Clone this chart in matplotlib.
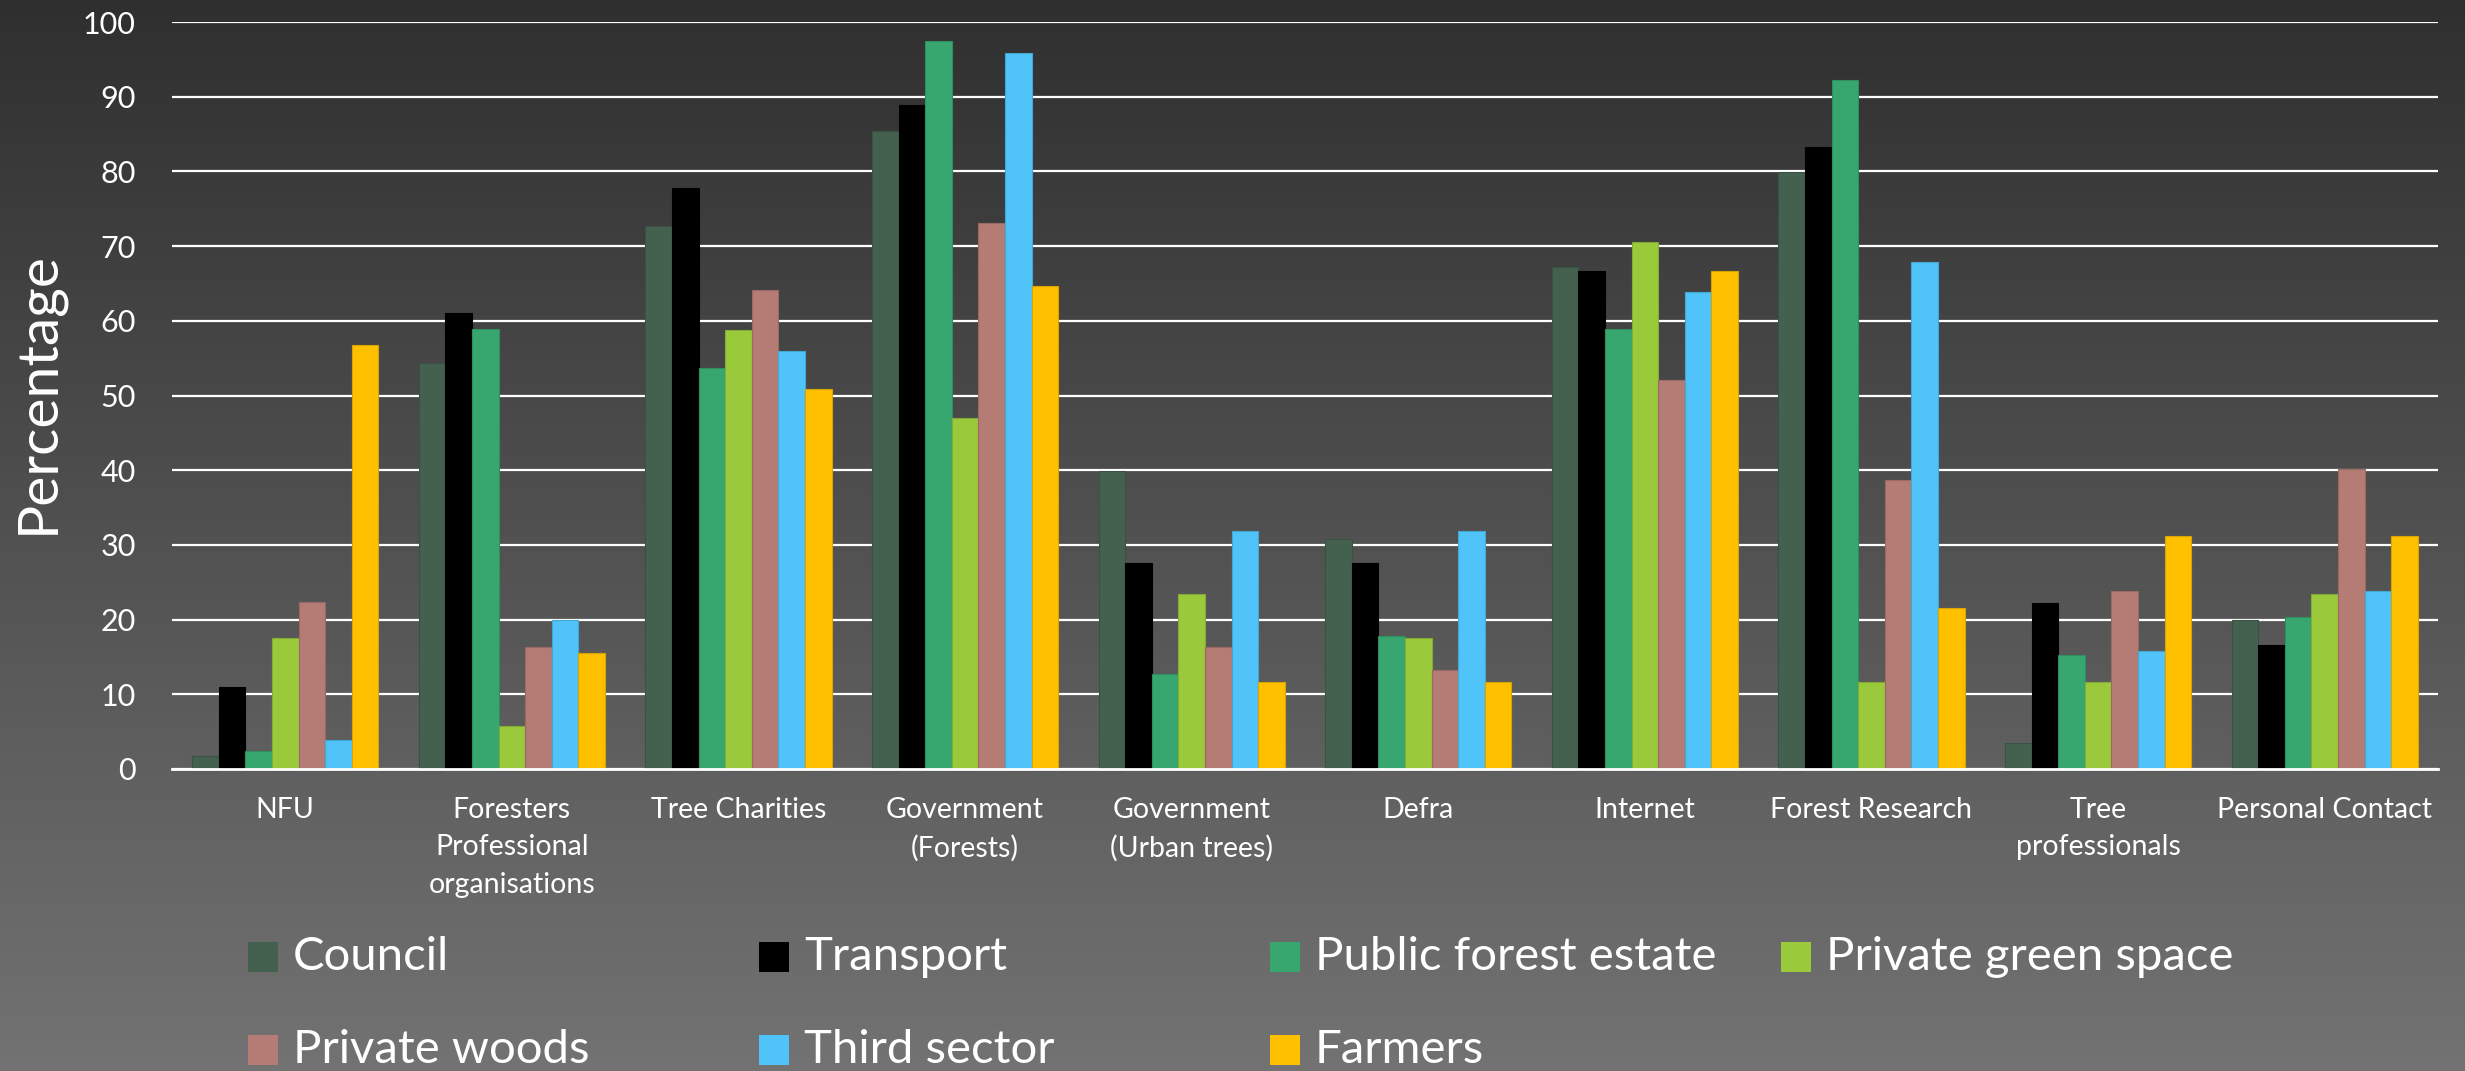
import numpy as np
import matplotlib
matplotlib.use("Agg")
import matplotlib.pyplot as plt
from matplotlib.patches import Rectangle
from matplotlib.colors import to_rgb

# ---- data ----
categories = ["NFU", "Foresters\nProfessional\norganisations", "Tree Charities",
              "Government\n(Forests)", "Government\n(Urban trees)", "Defra",
              "Internet", "Forest Research", "Tree\nprofessionals", "Personal Contact"]

series_names = ["Council", "Transport", "Public forest estate", "Private green space",
                "Private woods", "Third sector", "Farmers"]

council = [1.7, 54.4, 72.7, 85.4, 39.9, 30.8, 67.2, 79.9, 3.5, 20.0]
transport = [11.0, 61.1, 77.8, 88.9, 27.6, 27.6, 66.6, 83.3, 22.2, 16.6]
public_forest_estate = [2.4, 58.9, 53.7, 97.5, 12.7, 17.8, 58.9, 92.3, 15.2, 20.4]
private_green_space = [17.5, 5.8, 58.8, 47.0, 23.4, 17.5, 70.6, 11.6, 11.6, 23.4]
private_woods = [22.3, 16.3, 64.1, 73.1, 16.3, 13.3, 52.1, 38.7, 23.8, 40.2]
third_sector = [3.9, 20.0, 55.9, 95.9, 31.9, 31.9, 63.9, 67.9, 15.8, 23.8]
farmers = [56.7, 15.5, 50.9, 64.6, 11.6, 11.6, 66.6, 21.5, 31.2, 31.2]

series_values = [council, transport, public_forest_estate, private_green_space,
                 private_woods, third_sector, farmers]

colors = ["#44604F", "#000000", "#37A76F", "#9ACA3C", "#B57C75", "#50C4F8", "#FFC000"]

y_ticks = [0, 10, 20, 30, 40, 50, 60, 70, 80, 90, 100]

FONT = ["Lato", "DejaVu Sans"]
plt.rcParams["font.family"] = FONT

W, H = 2465, 1071
fig = plt.figure(figsize=(W / 100, H / 100), dpi=100)

# vertical grey gradient background
bg = fig.add_axes([0, 0, 1, 1], zorder=-10)
grad = np.linspace(0, 1, 512).reshape(-1, 1)
top = np.array([0.185, 0.185, 0.185])
bottom = np.array([0.45, 0.45, 0.45])
img = top + (bottom - top) * grad[..., None]
bg.imshow(img, aspect="auto", extent=[0, 1, 0, 1], origin="upper")
bg.set_axis_off()

# main bar chart
left, right = 172 / W, 2438 / W
ax_top, ax_bot = 1 - 22 / H, 1 - 769 / H
ax = fig.add_axes([left, ax_bot, right - left, ax_top - ax_bot])
ax.set_facecolor("none")

x = np.arange(len(categories))
n = len(series_values)
bw = 0.1174
for i, (vals, col) in enumerate(zip(series_values, colors)):
    edge = tuple(c * 0.85 for c in to_rgb(col))
    ax.bar(x + (i - (n - 1) / 2) * bw, vals, width=bw, color=col,
           edgecolor=edge, linewidth=0.8, zorder=3, label=series_names[i])

ax.set_xlim(-0.5, len(categories) - 0.5)
ax.set_ylim(0, 100)
ax.set_yticks(y_ticks)
ax.yaxis.grid(True, color="white", linewidth=1.6, zorder=1)
ax.set_axisbelow(True)
for s in ["top", "right", "left"]:
    ax.spines[s].set_visible(False)
ax.spines["bottom"].set_color("white")
ax.spines["bottom"].set_linewidth(2)
ax.spines["bottom"].set_zorder(4)

ax.tick_params(axis="y", length=0, pad=26, labelsize=22, labelcolor="white")
ax.tick_params(axis="x", length=0, pad=20, labelsize=20.5, labelcolor="white")
ax.set_xticks(x)
ax.set_xticklabels(categories, linespacing=1.55, va="top")

fig.text(38 / W, 1 - 393 / H, "Percentage", rotation=90, color="white",
         fontsize=41, ha="center", va="center")

# legend: four equally spaced columns, two rows
col_x = [248 + k * 511 for k in range(4)]
row_y = [957, 1050]
sq = 30
for k, (name, col) in enumerate(zip(series_names, colors)):
    r, c = divmod(k, 4)
    px, py = col_x[c], row_y[r]
    fig.patches.append(Rectangle((px / W, 1 - (py + sq / 2) / H), sq / W, sq / H,
                                 transform=fig.transFigure, facecolor=col,
                                 edgecolor="none"))
    fig.text((px + 45) / W, 1 - py / H, name, color="white", fontsize=34,
             ha="left", va="center")

fig.savefig("out.png", dpi=100)
